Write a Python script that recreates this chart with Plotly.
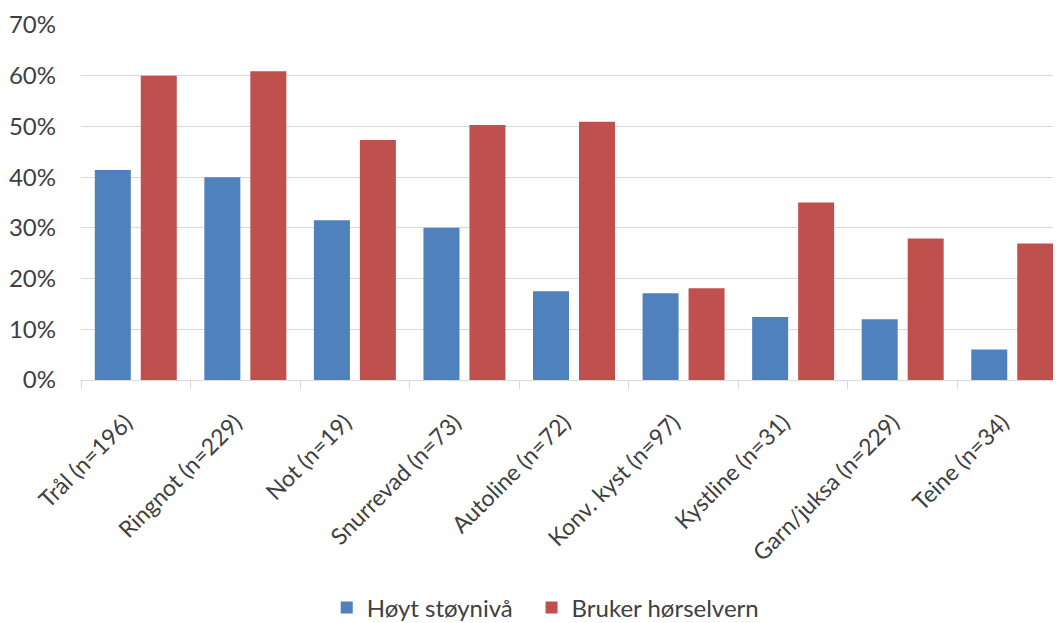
import plotly.graph_objects as go

categories = ["Trål (n=196)", "Ringnot (n=229)", "Not (n=19)", "Snurrevad (n=73)",
              "Autoline (n=72)", "Konv. kyst (n=97)", "Kystline (n=31)",
              "Garn/juksa (n=229)", "Teine (n=34)"]
hoyt_stoy = [0.414, 0.40, 0.315, 0.30, 0.175, 0.171, 0.124, 0.12, 0.06]
bruker_horselvern = [0.60, 0.609, 0.473, 0.503, 0.509, 0.181, 0.35, 0.279, 0.269]
y_ticks = [0, 0.1, 0.2, 0.3, 0.4, 0.5, 0.6, 0.7]

font_family = "Lato, Open Sans, sans-serif"

fig = go.Figure()
fig.add_trace(go.Bar(x=categories, y=hoyt_stoy, name="Høyt støynivå", legend="legend",
                     marker=dict(color="#4F81BD", line=dict(width=0))))
fig.add_trace(go.Bar(x=categories, y=bruker_horselvern, name="Bruker hørselvern",
                     legend="legend2",
                     marker=dict(color="#C0504D", line=dict(width=0))))

legend_common = dict(orientation="h", xanchor="left", xref="container",
                     y=0.0244, yanchor="middle", yref="container",
                     font=dict(size=24, color="#404040"), itemwidth=30)

fig.update_layout(
    width=1053, height=615,
    margin=dict(l=73, r=0, t=17, b=243, autoexpand=False),
    paper_bgcolor="white", plot_bgcolor="white",
    barmode="group", bargap=0.1606, bargroupgap=0.217,
    font=dict(family=font_family, size=24, color="#404040"),
    showlegend=True,
    legend=dict(x=0.3027, **legend_common),
    legend2=dict(x=0.4972, **legend_common),
    xaxis=dict(tickangle=-45, showgrid=False, showline=True, linecolor="#D9D9D9",
               linewidth=1, ticks="outside", tickson="boundaries", ticklen=8,
               tickcolor="#D9D9D9", tickfont=dict(size=23, color="#404040"),
               range=[-0.5, 8.445], ticklabelstandoff=19, ticklabelshift=-10,
               automargin=False),
    yaxis=dict(range=[0, 0.7], tickvals=y_ticks, tickformat=".0%",
               showgrid=True, gridcolor="#D9D9D9", gridwidth=1, zeroline=False,
               showline=False, ticks="", ticklabelstandoff=24, automargin=False,
               tickfont=dict(size=24, color="#404040")),
)

fig.write_html("out.html")
